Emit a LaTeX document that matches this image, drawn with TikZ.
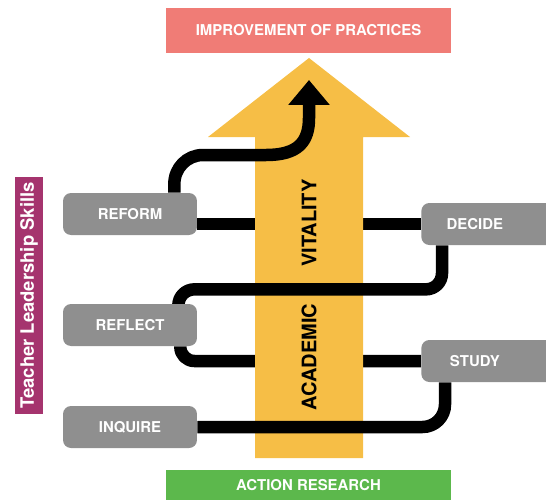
\documentclass[tikz,border=0pt]{standalone}
\usepackage{fontspec}
\setmainfont{TeX Gyre Heros}
\usetikzlibrary{arrows.meta,calc}
\definecolor{practicered}{RGB}{240,124,118}
\definecolor{researchgreen}{RGB}{92,184,76}
\definecolor{vitalyellow}{RGB}{246,190,70}
\definecolor{leaderpurple}{RGB}{165,52,110}
\definecolor{skillgray}{RGB}{143,143,143}
\pgfdeclarelayer{front}
\pgfsetlayers{main,front}
\begin{document}
\begin{tikzpicture}[x=0.02cm,y=-0.02cm,
    skill/.style={fill=skillgray,rounded corners=0.16cm,minimum width=2.68cm,minimum height=0.84cm,inner sep=0pt,text=white,font=\bfseries\fontsize{8.5}{10}\selectfont},
    band/.style={minimum width=5.7cm,inner sep=0pt,text=white,font=\bfseries\fontsize{8.5}{10}\selectfont},
    wire/.style={line width=0.25cm,black,line join=round}]
    \useasboundingbox (0,0) rectangle (546,500);
    % boxes on top of the wires
    \begin{pgfonlayer}{front}
        \node[skill] (reform) at (130,214) {REFORM};
        \node[skill] (reflect) at (130,325) {REFLECT};
        \node[skill] (inquire) at (130,427) {INQUIRE};
        \node[skill,anchor=west,minimum width=2.9cm] (decide) at (421,224) {DECIDE\hspace*{0.76cm}};
        \node[skill,anchor=west,minimum width=2.9cm] (study) at (421,361) {STUDY\hspace*{0.76cm}};
    \end{pgfonlayer}
    \node[band,fill=practicered,minimum height=0.9cm] (practices) at (308.5,30.5) {IMPROVEMENT OF PRACTICES};
    \node[band,fill=researchgreen,minimum height=0.6cm] (research) at (308.5,485) {ACTION RESEARCH};
    \node[rotate=90,fill=leaderpurple,minimum width=4.74cm,minimum height=0.56cm,inner sep=0pt,text=white,font=\bfseries\fontsize{10.5}{12}\selectfont] (leadership) at (29,295.5) {Teacher Leadership Skills};
    % wires behind the big arrow
    \draw[wire] (reform.east |- decide.west) -- (decide.west);
    \draw[wire,rounded corners=0.28cm] (study.west) -| ($(reflect.south east)+(-17,0)$);
    % big arrow
    \fill[vitalyellow] (255,458) -- (255,137) -- (208,137) -- (309,58) -- (410,137) -- (363,137) -- (363,458) -- cycle;
    \node[rotate=90,font=\bfseries\fontsize{11.4}{13}\selectfont] (vitality) at (309,223) {VITALITY};
    \node[rotate=90,font=\bfseries\fontsize{11.4}{13}\selectfont] (academic) at (309,357) {ACADEMIC};
    % wires in front of the big arrow
    \coordinate (goal) at (309,80);
    \draw[wire,-{Triangle[length=0.5cm,width=0.8cm]}] ($(reform.north east)+(-23,0)$) -- ++(0,-8) .. controls (174,168) and (187,155) .. (203,155) -- (266,155) .. controls (298,155) and (309,142) .. (309,118) -- (goal);
    \draw[wire,rounded corners=0.32cm] ($(decide.south west)+(21,0)$) -- ++(0,44) -| ($(reflect.north east)+(-19,0)$);
    \draw[wire,rounded corners=0.45cm] (inquire.east) -| ($(study.south west)+(24,0)$);
\end{tikzpicture}
\end{document}
